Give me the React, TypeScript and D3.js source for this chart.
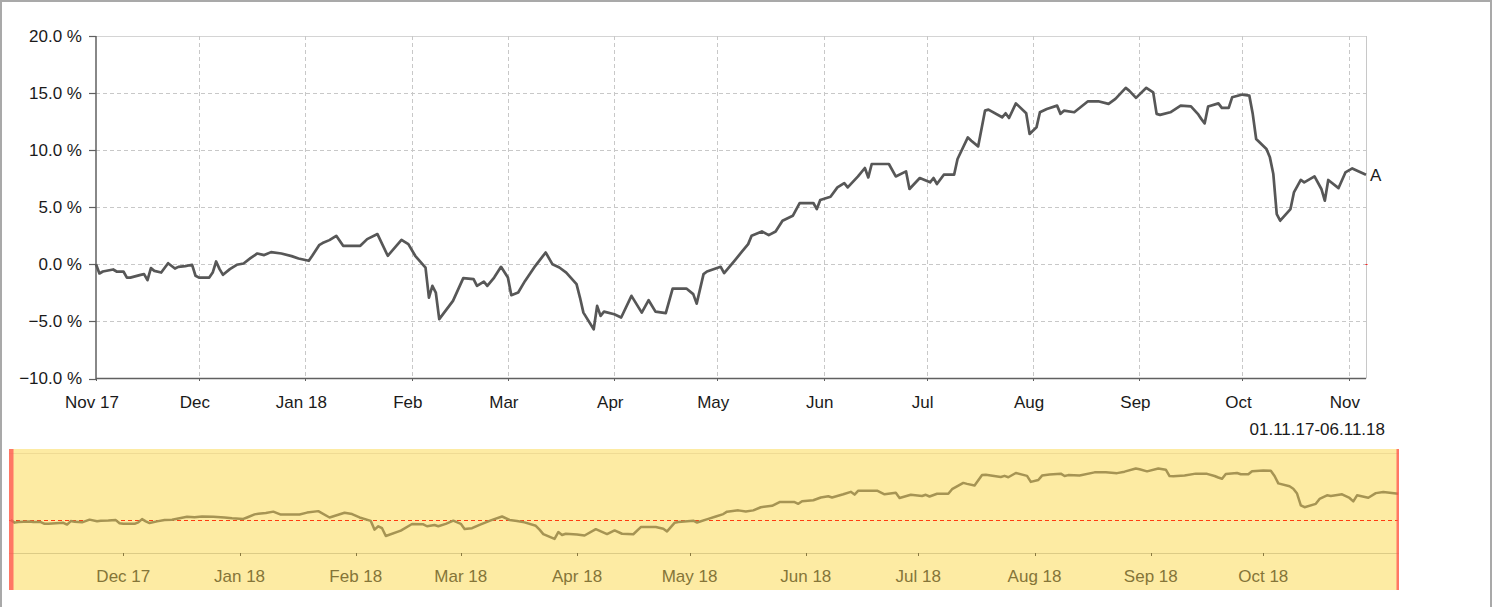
import React from "react";
import * as d3 from "d3";

const dates = [
  "2017-11-01","2017-11-02","2017-11-03","2017-11-06","2017-11-07","2017-11-09","2017-11-10","2017-11-11","2017-11-14","2017-11-15","2017-11-16","2017-11-17","2017-11-18","2017-11-20","2017-11-22","2017-11-24","2017-11-25","2017-11-27","2017-11-29","2017-11-30",
  "2017-12-01","2017-12-04","2017-12-05","2017-12-06","2017-12-07","2017-12-08","2017-12-10","2017-12-12","2017-12-14","2017-12-16","2017-12-18","2017-12-20","2017-12-22","2017-12-25","2017-12-28","2017-12-30",
  "2018-01-02","2018-01-03","2018-01-05","2018-01-06","2018-01-08","2018-01-10","2018-01-12","2018-01-17","2018-01-19","2018-01-22","2018-01-25","2018-01-29","2018-01-31",
  "2018-02-02","2018-02-05","2018-02-06","2018-02-07","2018-02-08","2018-02-09","2018-02-13","2018-02-16","2018-02-19","2018-02-20","2018-02-22","2018-02-23","2018-02-25","2018-02-27",
  "2018-03-01","2018-03-02","2018-03-04","2018-03-06","2018-03-09","2018-03-12","2018-03-14","2018-03-16","2018-03-18","2018-03-21","2018-03-22","2018-03-23","2018-03-26","2018-03-27","2018-03-28","2018-03-29",
  "2018-04-01","2018-04-03","2018-04-06","2018-04-09","2018-04-11","2018-04-13","2018-04-16","2018-04-18","2018-04-22","2018-04-24","2018-04-25","2018-04-27","2018-04-28",
  "2018-05-02","2018-05-03","2018-05-06","2018-05-08","2018-05-10","2018-05-11","2018-05-14","2018-05-16","2018-05-18","2018-05-20","2018-05-23","2018-05-25","2018-05-29","2018-05-30","2018-05-31",
  "2018-06-03","2018-06-05","2018-06-07","2018-06-08","2018-06-11","2018-06-13","2018-06-14","2018-06-15","2018-06-20","2018-06-22","2018-06-25","2018-06-26","2018-06-29",
  "2018-07-02","2018-07-03","2018-07-04","2018-07-06","2018-07-09","2018-07-10","2018-07-13","2018-07-14","2018-07-16","2018-07-18","2018-07-19","2018-07-23","2018-07-24","2018-07-25","2018-07-27","2018-07-30","2018-07-31",
  "2018-08-02","2018-08-03","2018-08-05","2018-08-08","2018-08-09","2018-08-10","2018-08-13","2018-08-17","2018-08-20","2018-08-23","2018-08-25","2018-08-28","2018-08-29","2018-08-31",
  "2018-09-03","2018-09-05","2018-09-06","2018-09-07","2018-09-10","2018-09-13","2018-09-16","2018-09-18","2018-09-19","2018-09-20","2018-09-21","2018-09-24","2018-09-25","2018-09-27","2018-09-28",
  "2018-10-01","2018-10-03","2018-10-04","2018-10-05","2018-10-08","2018-10-09","2018-10-10","2018-10-11","2018-10-12","2018-10-15","2018-10-16","2018-10-18","2018-10-19","2018-10-22","2018-10-24","2018-10-25","2018-10-26","2018-10-29","2018-10-31",
  "2018-11-02","2018-11-06",
];

const values = [
  0.0, -0.8, -0.63, -0.45, -0.63, -0.63, -1.16, -1.16, -0.92, -0.86, -1.39, -0.33, -0.57, -0.72, 0.1, -0.37, -0.22, -0.16, -0.04, -1.0,
  -1.16, -1.16, -0.72, 0.25, -0.42, -0.92, -0.42, -0.04, 0.07, 0.54, 0.95, 0.81, 1.07, 0.95, 0.72, 0.51,
  0.31, 0.75, 1.68, 1.86, 2.12, 2.5, 1.62, 1.62, 2.21, 2.65, 0.75, 2.15, 1.77,
  0.75, -0.28, -2.91, -1.89, -2.47, -4.8, -3.2, -1.21, -1.3, -1.89, -1.51, -1.89, -1.16, -0.22,
  -1.16, -2.7, -2.47, -1.45, -0.13, 1.04, 0.0, -0.28, -0.72, -1.74, -2.91, -4.23, -5.69, -3.64, -4.52, -4.14,
  -4.37, -4.66, -2.76, -4.23, -3.14, -4.14, -4.28, -2.12, -2.12, -2.61, -3.44, -0.86, -0.63,
  -0.22, -0.77, 0.31, 1.04, 1.77, 2.5, 2.88, 2.56, 2.88, 3.82, 4.25, 5.37, 5.37, 4.84, 5.63,
  5.92, 6.74, 7.12, 6.74, 7.7, 8.44, 7.61, 8.79, 8.79, 7.7, 8.14, 6.6, 7.56,
  7.18, 7.56, 7.04, 7.85, 7.85, 9.23, 11.12, 10.83, 10.33, 13.46, 13.55, 12.88, 13.23, 12.82, 14.1, 13.23, 11.42,
  12.0, 13.32, 13.61, 13.9, 13.18, 13.46, 13.32, 14.28, 14.28, 14.05, 14.49, 15.46, 15.22, 14.58,
  15.46, 15.07, 13.18, 13.09, 13.32, 13.9, 13.84, 13.18, 12.74, 12.35, 13.82, 14.1, 13.7, 13.7, 14.63,
  14.87, 14.78, 13.18, 10.98, 10.1, 9.37, 7.91, 4.4, 3.82, 4.84, 6.3, 7.39, 7.18, 7.7, 6.6, 5.57, 7.39, 6.68, 8.05,
  8.4, 7.85,
];

const yTicks = [-10, -5, 0, 5, 10, 15, 20];

const mainTickDates = [
  "2017-11-01","2017-12-01","2018-01-01","2018-02-01","2018-03-01","2018-04-01","2018-05-01",
  "2018-06-01","2018-07-01","2018-08-01","2018-09-01","2018-10-01","2018-11-01",
];
const mainTickLabels = ["Nov 17","Dec","Jan 18","Feb","Mar","Apr","May","Jun","Jul","Aug","Sep","Oct","Nov"];

const navTickDates = [
  "2017-12-01","2018-01-01","2018-02-01","2018-03-01","2018-04-01","2018-05-01",
  "2018-06-01","2018-07-01","2018-08-01","2018-09-01","2018-10-01",
];
const navTickLabels = ["Dec 17","Jan 18","Feb 18","Mar 18","Apr 18","May 18","Jun 18","Jul 18","Aug 18","Sep 18","Oct 18"];

const domainStart = "2017-11-01";
const domainEnd = "2018-11-06";
const rangeLabel = "01.11.17-06.11.18";
const seriesLabel = "A";

const FONT = "'Liberation Sans', Arial, sans-serif";
const FS = 17;

export default function App() {
  const parse = d3.utcParse("%Y-%m-%d");
  const data = dates.map((d, i) => ({ date: parse(d) as Date, value: values[i] }));
  const start = parse(domainStart) as Date;
  const end = parse(domainEnd) as Date;

  const x = d3.scaleUtc().domain([start, end]).range([96, 1366]);
  const y = d3.scaleLinear().domain([-10, 20]).range([378.5, 36]);
  const nx = d3.scaleUtc().domain([start, end]).range([10.8, 1398.3]);
  const ny = d3.scaleLinear().domain([-10, 20]).range([553.3, 453.3]);

  const mainLine = d3
    .line<{ date: Date; value: number }>()
    .x((d) => x(d.date))
    .y((d) => y(d.value));
  const navLine = d3
    .line<{ date: Date; value: number }>()
    .x((d) => nx(d.date))
    .y((d) => ny(d.value));

  const last = data[data.length - 1];
  const fmt = d3.format(".1f");

  return (
    <svg
      width={1496}
      height={607}
      style={{ position: "fixed", left: 0, top: 0, background: "#fff" }}
      fontFamily={FONT}
    >
      {/* outer frame */}
      <rect x={1} y={1} width={1490} height={640} fill="none" stroke="#a9a9a9" strokeWidth={2} />

      {/* horizontal grid */}
      {yTicks.map((t) =>
        t === -10 ? null : (
          <line
            key={"hg" + t}
            x1={96}
            x2={1366}
            y1={Math.round(y(t)) + 0.5}
            y2={Math.round(y(t)) + 0.5}
            stroke={t === 20 ? "#d4d4d4" : "#c8c8c8"}
            strokeDasharray={t === 20 ? undefined : "4,3"}
            strokeWidth={1}
          />
        )
      )}
      {/* vertical grid */}
      {mainTickDates.slice(1).map((d) => {
        const px = Math.round(x(parse(d) as Date)) + 0.5;
        return (
          <line key={"vg" + d} x1={px} x2={px} y1={36} y2={378} stroke="#c8c8c8" strokeDasharray="4,3" strokeWidth={1} />
        );
      })}
      {/* right border of plot */}
      <line x1={1366.5} x2={1366.5} y1={36} y2={378.5} stroke="#c8c8c8" strokeWidth={1} />
      <line x1={1365.5} x2={1367.5} y1={Math.round(y(0)) + 0.5} y2={Math.round(y(0)) + 0.5} stroke="#ff2020" strokeWidth={1} />

      {/* y axis */}
      <line x1={96} x2={96} y1={36} y2={379} stroke="#606060" strokeWidth={1.5} />
      {yTicks.map((t) => (
        <g key={"yt" + t}>
          <line x1={89} x2={96} y1={Math.round(y(t)) + 0.5} y2={Math.round(y(t)) + 0.5} stroke="#606060" strokeWidth={1.2} />
          <text x={82} y={y(t)} dy="0.35em" textAnchor="end" fontSize={FS} fill="#1a1a1a">
            {fmt(t) + " %"}
          </text>
        </g>
      ))}

      {/* x axis */}
      <line x1={96} x2={1366} y1={378.5} y2={378.5} stroke="#606060" strokeWidth={1.5} />
      {mainTickDates.map((d, i) => {
        const px = x(parse(d) as Date);
        return (
          <g key={"xt" + d}>
            <line x1={Math.round(px) + 0.5} x2={Math.round(px) + 0.5} y1={378} y2={381} stroke="#606060" strokeWidth={1} />
            <text x={px - 4} y={408} textAnchor="middle" fontSize={FS} fill="#1a1a1a">
              {mainTickLabels[i]}
            </text>
          </g>
        );
      })}

      {/* series line */}
      <path d={mainLine(data) || ""} fill="none" stroke="#575757" strokeWidth={2.7} strokeLinejoin="round" />
      <text x={x(last.date) + 4} y={y(last.value)} dy="0.35em" fontSize={FS} fill="#1a1a1a">
        {seriesLabel}
      </text>

      <text x={1385} y={435} textAnchor="end" fontSize={FS} fill="#1a1a1a">
        {rangeLabel}
      </text>

      {/* navigator */}
      <rect x={9} y={449} width={1390} height={141} fill="#fdeba3" />
      <line x1={9} x2={1399} y1={453.5} y2={453.5} stroke="#efdb94" strokeWidth={1} />
      <line x1={9} x2={1399} y1={553.5} y2={553.5} stroke="#dccb86" strokeWidth={1} />
      {navTickDates.map((d, i) => {
        const px = nx(parse(d) as Date);
        return (
          <g key={"nt" + d}>
            <line x1={Math.round(px) + 0.5} x2={Math.round(px) + 0.5} y1={553} y2={556} stroke="#8a7a40" strokeWidth={1} />
            <text x={px} y={582} textAnchor="middle" fontSize={FS} fill="#857538">
              {navTickLabels[i]}
            </text>
          </g>
        );
      })}
      <line x1={9} x2={1398} y1={Math.round(ny(0)) + 0.5} y2={Math.round(ny(0)) + 0.5} stroke="#ff3b10" strokeWidth={1} strokeDasharray="4,3" />
      <path d={navLine(data) || ""} fill="none" stroke="#a69453" strokeWidth={2.5} strokeLinejoin="round" />
      <rect x={9} y={449} width={4.5} height={141} fill="#ff5050" fillOpacity={0.75} />
      <rect x={1396.5} y={449} width={2.5} height={141} fill="#ff5050" fillOpacity={0.75} />
    </svg>
  );
}
